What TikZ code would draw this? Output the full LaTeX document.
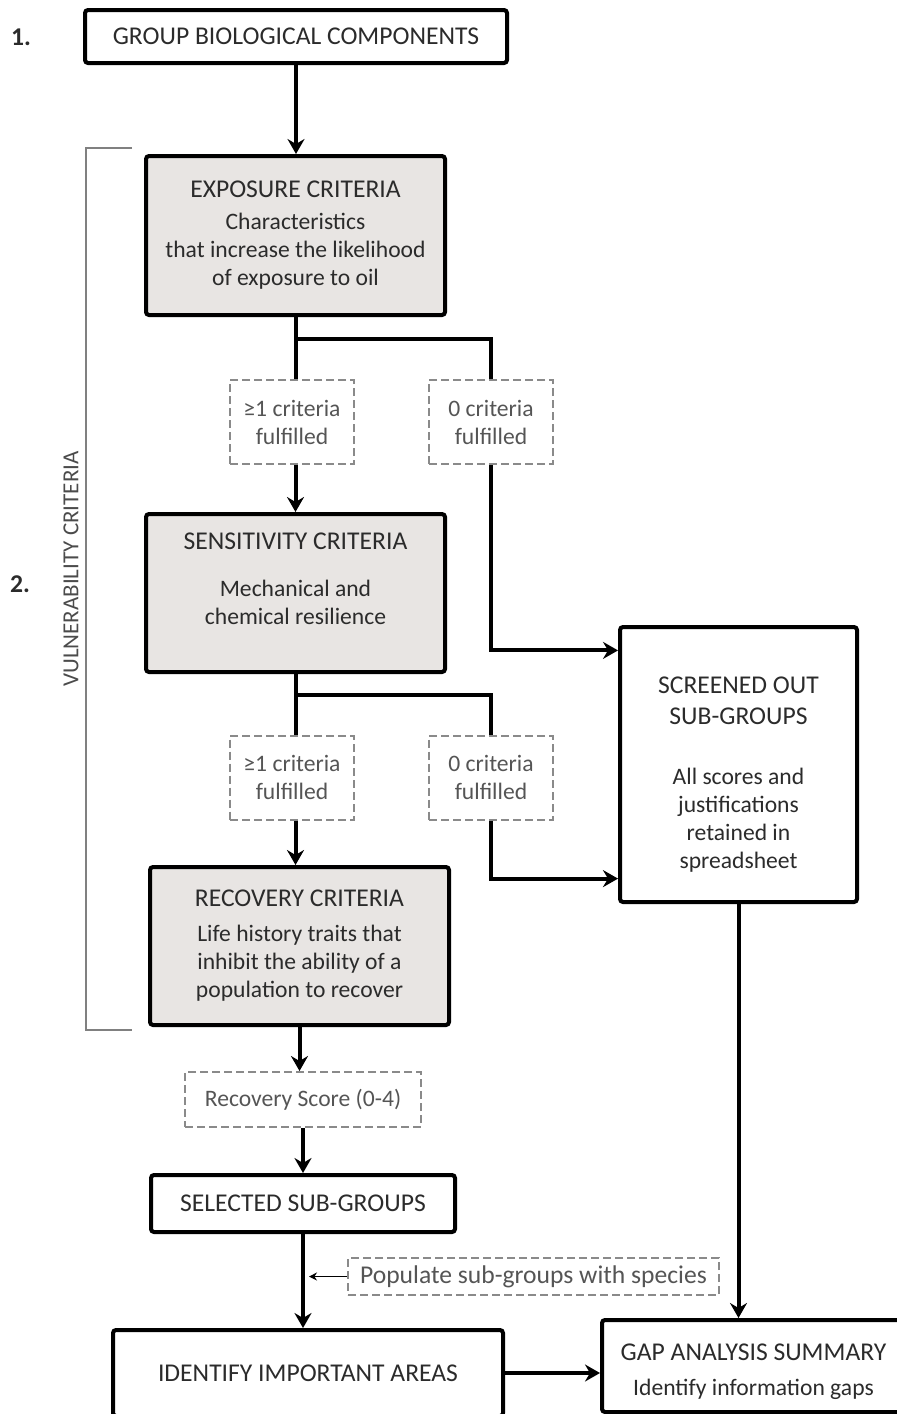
\documentclass[tikz,border=0pt]{standalone}
\usepackage{fontspec}
\setmainfont{Carlito}
\usetikzlibrary{arrows.meta,positioning,calc}
\definecolor{ink}{HTML}{2B2B2B}
\definecolor{boxfill}{HTML}{E8E5E3}
\definecolor{dgray}{HTML}{8A8A8A}
\definecolor{dtext}{HTML}{555555}
\newcommand{\ttl}{\fontsize{12.8}{14}\selectfont}
\tikzset{
  box/.style={draw=black,line width=2pt,rounded corners=1.5pt,align=center,text=ink,inner sep=0pt},
  gbox/.style={box,fill=boxfill},
  cbox/.style={box,font=\ttl},
  dbox/.style={draw=dgray,line width=1pt,dash pattern=on 4pt off 2pt,align=center,text=dtext,inner sep=0pt},
  ln/.style={line width=2pt},
  ar/.style={ln,-{Stealth[length=7.5pt,width=8.5pt,inset=2.5pt]}},
  thinar/.style={-{Stealth[length=4pt,width=4pt]},line width=0.6pt,shorten >=3pt},
  brk/.style={draw=gray,line width=0.8pt},
}

\begin{document}
\begin{tikzpicture}[x=0.5pt,y=-0.5pt,font=\fontsize{11.8}{14}\selectfont]
\useasboundingbox (0,0) rectangle (897,1414);
% main column
\node[cbox,minimum width=211pt,minimum height=26.5pt] (grp) at (296,36.5) {GROUP BIOLOGICAL COMPONENTS};
\node[gbox,minimum width=149.5pt,minimum height=79.5pt] (expo) at (295.5,235.5)
  {{\ttl EXPOSURE CRITERIA}\\[2pt]Characteristics\\that increase the likelihood\\of exposure to oil};
\node[dbox,minimum width=62pt,minimum height=42pt] (fulA) at (292,422) {≥1 criteria\\fulfilled};
\node[dbox,minimum width=62pt,minimum height=42pt] (nulA) at (491,422) {0 criteria\\fulfilled};
\node[gbox,minimum width=149.5pt,minimum height=79pt] (sens) at (295.5,593)
  {{\ttl SENSITIVITY CRITERIA}\\[9.5pt]Mechanical and\\chemical resilience\\\mbox{}};
\node[dbox,minimum width=62pt,minimum height=42pt] (fulB) at (292,777.5) {≥1 criteria\\fulfilled};
\node[dbox,minimum width=62pt,minimum height=42pt] (nulB) at (491,777.5) {0 criteria\\fulfilled};
\node[gbox,minimum width=149.5pt,minimum height=79pt] (rec) at (299.5,946)
  {{\ttl RECOVERY CRITERIA}\\[3.5pt]Life history traits that\\inhibit the ability of a\\population to recover};
\node[dbox,minimum width=118pt,minimum height=27.5pt] (rsc) at (303,1099.5) {Recovery Score (0-4)};
\node[cbox,minimum width=152pt,minimum height=28.5pt] (sel) at (303,1203.5) {SELECTED SUB-GROUPS};
\node[dbox,font=\ttl,minimum width=185.5pt,minimum height=18.5pt] (pop) at (533.5,1276.5) {Populate sub-groups with species};
\node[cbox,minimum width=195pt,minimum height=43pt] (iden) at (308,1373) {IDENTIFY IMPORTANT AREAS};
% right column
\node[box,minimum width=118.5pt,minimum height=137.5pt] (scr) at (738.5,764.5)
  {\mbox{}\\[4.3pt]{\ttl SCREENED OUT}\\[1.5pt]{\ttl SUB-GROUPS}\\[16pt]All scores and\\justifications\\retained in\\spreadsheet};
\node[box,minimum width=151.5pt,minimum height=46pt] (gap) at (753.5,1366)
  {\mbox{}\\[0.3pt]{\ttl GAP ANALYSIS SUMMARY}\\[3.5pt]Identify information gaps};
% side labels
\node[font=\ttl\bfseries,text=ink] (one) at (21,37) {1.};
\node[font=\ttl\bfseries,text=ink] (two) at (20,584) {2.};
\node[rotate=90,text=ink!85,font=\fontsize{11.5}{14}\selectfont] (vul) at (71,569) {VULNERABILITY CRITERIA};
\draw[brk] (132,148) -| (86,1030) -- (132,1030);
% connectors
\draw[ar] (grp.south) -- (grp.south |- expo.north);
\draw[ln] (expo.south) -- (expo.south |- fulA.north);
\draw[ln] (expo.south) ++(0,22) -| (nulA.north);
\draw[ar] (sens.north |- fulA.south) -- (sens.north);
\draw[ar] (nulA.south) |- ($(scr.north west)!0.091!(scr.south west)$);
\draw[ln] (sens.south) -- (sens.south |- fulB.north);
\draw[ln] (sens.south) ++(0,21) -| (nulB.north);
\draw[ar] (sens.south |- fulB.south) -- (sens.south |- rec.north);
\draw[ar] (nulB.south) |- ($(scr.north west)!0.909!(scr.south west)$);
\draw[ar] (rec.south) -- (rec.south |- rsc.north);
\draw[ar] (rsc.south) -- (sel.north);
\draw[ar] (sel.south) -- (sel.south |- iden.north);
\draw[thinar] (pop.west) -- (pop.west -| sel.south);
\draw[ar] (scr.south) -- (scr.south |- gap.north);
\draw[ar] (iden.east) -- (iden.east -| gap.west);
\end{tikzpicture}
\end{document}
